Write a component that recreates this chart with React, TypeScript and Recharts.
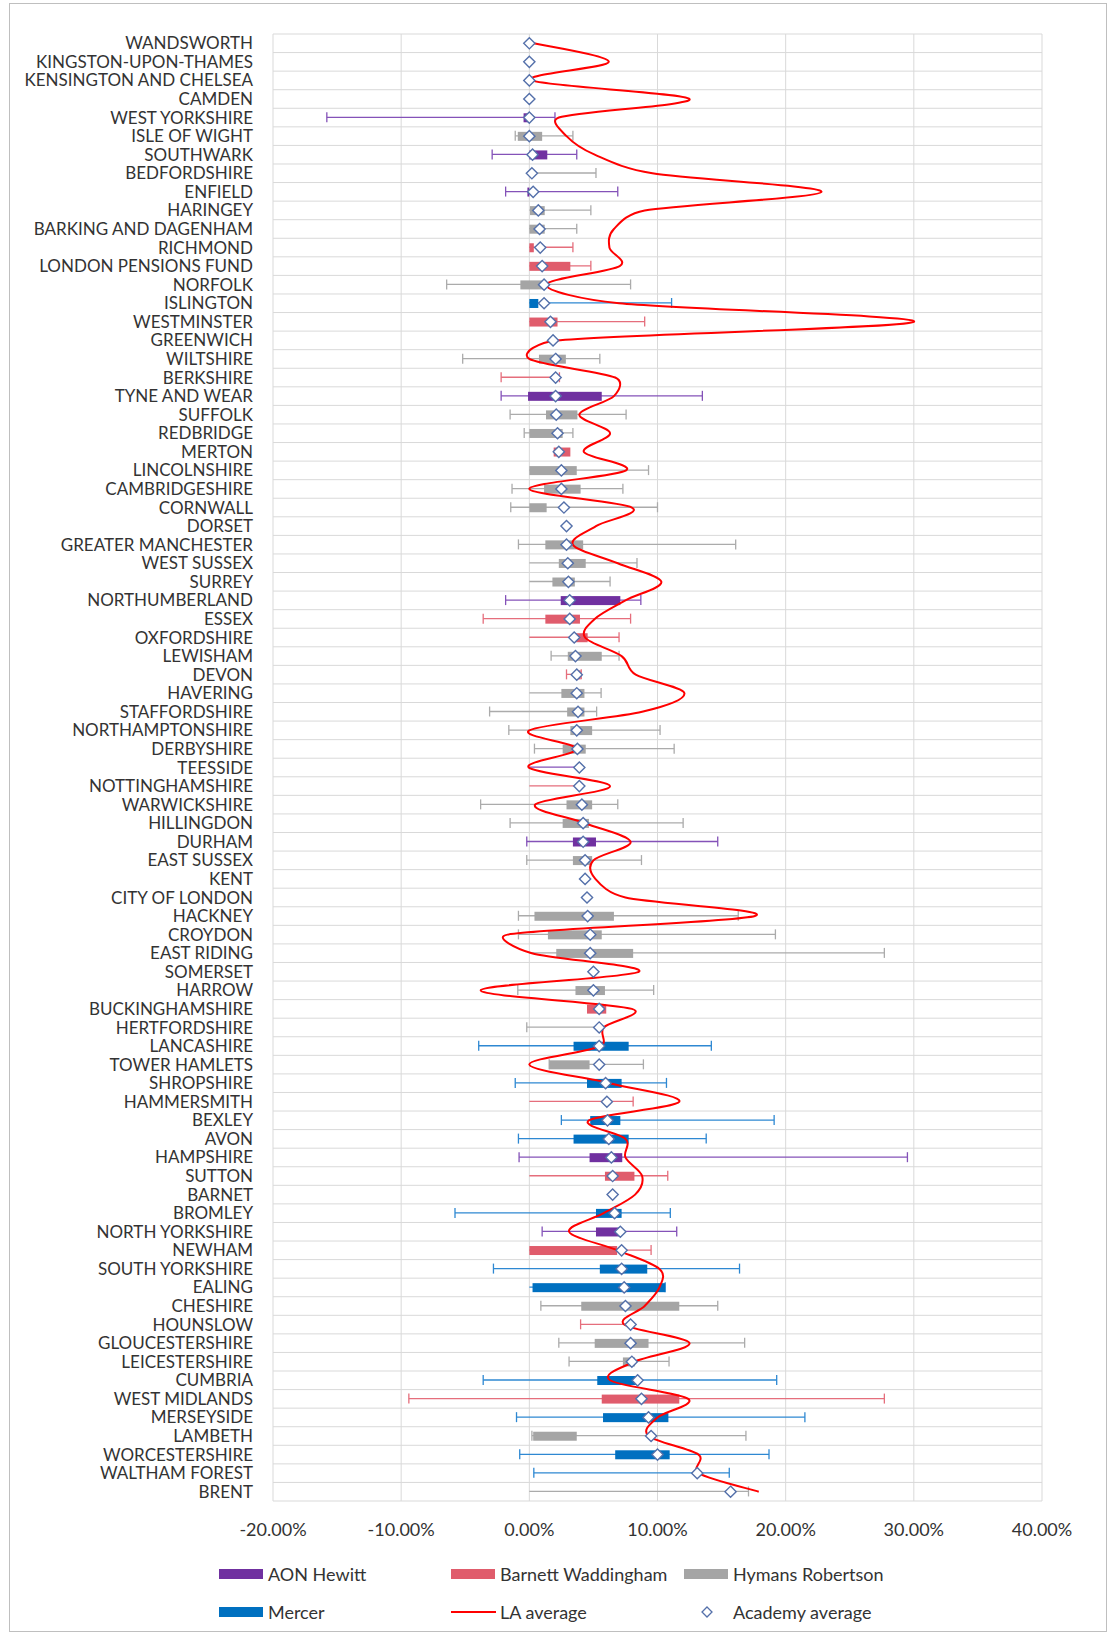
import React from 'react';
import { ComposedChart, Bar, Line, XAxis, YAxis, CartesianGrid } from 'recharts';

const CATEGORIES: string[] = [
  'WANDSWORTH', 'KINGSTON-UPON-THAMES', 'KENSINGTON AND CHELSEA', 'CAMDEN', 'WEST YORKSHIRE',
  'ISLE OF WIGHT', 'SOUTHWARK', 'BEDFORDSHIRE', 'ENFIELD', 'HARINGEY',
  'BARKING AND DAGENHAM', 'RICHMOND', 'LONDON PENSIONS FUND', 'NORFOLK', 'ISLINGTON',
  'WESTMINSTER', 'GREENWICH', 'WILTSHIRE', 'BERKSHIRE', 'TYNE AND WEAR',
  'SUFFOLK', 'REDBRIDGE', 'MERTON', 'LINCOLNSHIRE', 'CAMBRIDGESHIRE',
  'CORNWALL', 'DORSET', 'GREATER MANCHESTER', 'WEST SUSSEX', 'SURREY',
  'NORTHUMBERLAND', 'ESSEX', 'OXFORDSHIRE', 'LEWISHAM', 'DEVON',
  'HAVERING', 'STAFFORDSHIRE', 'NORTHAMPTONSHIRE', 'DERBYSHIRE', 'TEESSIDE',
  'NOTTINGHAMSHIRE', 'WARWICKSHIRE', 'HILLINGDON', 'DURHAM', 'EAST SUSSEX',
  'KENT', 'CITY OF LONDON', 'HACKNEY', 'CROYDON', 'EAST RIDING',
  'SOMERSET', 'HARROW', 'BUCKINGHAMSHIRE', 'HERTFORDSHIRE', 'LANCASHIRE',
  'TOWER HAMLETS', 'SHROPSHIRE', 'HAMMERSMITH', 'BEXLEY', 'AVON',
  'HAMPSHIRE', 'SUTTON', 'BARNET', 'BROMLEY', 'NORTH YORKSHIRE',
  'NEWHAM', 'SOUTH YORKSHIRE', 'EALING', 'CHESHIRE', 'HOUNSLOW',
  'GLOUCESTERSHIRE', 'LEICESTERSHIRE', 'CUMBRIA', 'WEST MIDLANDS', 'MERSEYSIDE',
  'LAMBETH', 'WORCESTERSHIRE', 'WALTHAM FOREST', 'BRENT',
];

// A = AON Hewitt, B = Barnett Waddingham, H = Hymans Robertson, M = Mercer, '' = none
const ACTUARY: string[] = [
  '', '', '', '', 'A',
  'H', 'A', 'H', 'A', 'H',
  'H', 'B', 'B', 'H', 'M',
  'B', '', 'H', 'B', 'A',
  'H', 'H', 'B', 'H', 'H',
  'H', '', 'H', 'H', 'H',
  'A', 'B', 'B', 'H', 'B',
  'H', 'H', 'H', 'H', 'A',
  'B', 'H', 'H', 'A', 'H',
  '', '', 'H', 'H', 'H',
  '', 'H', 'B', 'H', 'M',
  'H', 'M', 'B', 'M', 'M',
  'A', 'B', '', 'M', 'A',
  'B', 'M', 'M', 'H', 'B',
  'H', 'H', 'M', 'B', 'M',
  'H', 'M', 'M', 'H',
];

const BOX_LOW: (number | null)[] = [
  null, null, null, null, -0.45,
  -0.9, 0, null, -0.15, 0.05,
  0, 0, 0, -0.7, 0,
  0, null, 0.75, null, -0.1,
  1.3, 0, 1.9, 0, 1.15,
  0, null, 1.25, 2.3, 1.8,
  2.45, 1.25, 3.4, 3.0, 3.6,
  2.5, 2.95, 3.2, 2.6, null,
  null, 2.9, 2.6, 3.4, 3.4,
  null, null, 0.4, 1.45, 2.1,
  null, 3.6, 4.5, null, 3.45,
  1.55, 4.5, null, 4.75, 3.45,
  4.7, 5.9, null, 5.2, 5.2,
  0, 5.5, 0.25, 4.05, null,
  5.1, 7.3, 5.3, 5.65, 5.75,
  0.3, 6.7, null, null,
];

const BOX_HIGH: (number | null)[] = [
  null, null, null, null, 0,
  1.0, 1.4, null, 0, 1.2,
  1.2, 0.35, 3.2, 1.15, 0.7,
  2.2, null, 2.85, null, 5.65,
  3.75, 2.6, 3.2, 3.7, 4.0,
  1.35, null, 4.2, 4.4, 3.55,
  7.1, 3.95, 4.55, 5.65, 4.0,
  4.3, 4.3, 4.9, 4.4, null,
  null, 4.9, 4.65, 5.2, 4.9,
  null, null, 6.6, 5.65, 8.1,
  null, 5.9, 6.0, null, 7.75,
  4.7, 7.2, null, 7.1, 7.75,
  7.25, 8.2, null, 7.2, 7.1,
  6.85, 9.2, 10.6, 11.7, null,
  9.3, 8.25, 8.45, 11.7, 10.85,
  3.7, 10.95, null, null,
];

const WHISKER_LOW: (number | null)[] = [
  null, null, null, null, -15.8,
  -1.1, -2.9, 0, -1.85, 0,
  0, 0, 0, -6.45, 0,
  0, null, -5.2, -2.2, -2.2,
  -1.5, -0.4, null, 0, -1.35,
  -1.45, null, -0.85, 0, 0,
  -1.85, -3.6, 0, 1.7, 2.9,
  0, -3.1, -1.6, 0.4, 0,
  0, -3.8, -1.5, -0.2, -0.2,
  null, null, -0.85, -0.85, 0,
  null, -0.9, null, -0.2, -3.95,
  1.55, -1.1, 0, 2.5, -0.85,
  -0.8, 0, null, -5.8, 1.0,
  0, -2.8, 0, 0.9, 4.0,
  2.3, 3.1, -3.6, -9.4, -1.0,
  0.2, -0.75, 0.35, 0,
];

const WHISKER_HIGH: (number | null)[] = [
  null, null, null, null, 2.0,
  3.4, 3.7, 5.2, 6.9, 4.8,
  3.7, 3.4, 4.8, 7.9, 11.1,
  9.0, null, 5.5, 2.35, 13.5,
  7.55, 3.4, null, 9.3, 7.3,
  10.0, null, 16.1, 8.4, 6.3,
  8.7, 7.9, 7.0, 7.0, 4.05,
  5.6, 5.25, 10.2, 11.3, 3.9,
  3.9, 6.9, 12.0, 14.7, 8.75,
  null, null, 16.3, 19.2, 27.7,
  null, 9.7, null, 5.45, 14.2,
  8.9, 10.7, 8.1, 19.1, 13.8,
  29.5, 10.8, null, 11.0, 11.5,
  9.5, 16.4, 10.6, 14.7, 7.9,
  16.8, 10.9, 19.3, 27.7, 21.5,
  16.9, 18.7, 15.6, 17.1,
];

const ACADEMY_AVG: number[] = [
  0, 0, 0, 0, 0,
  0, 0.25, 0.2, 0.3, 0.7,
  0.8, 0.85, 1.0, 1.15, 1.15,
  1.65, 1.85, 2.05, 2.05, 2.05,
  2.1, 2.2, 2.3, 2.5, 2.5,
  2.7, 2.9, 2.9, 3.0, 3.05,
  3.15, 3.15, 3.5, 3.6, 3.7,
  3.7, 3.8, 3.7, 3.75, 3.9,
  3.9, 4.1, 4.2, 4.2, 4.35,
  4.35, 4.5, 4.55, 4.75, 4.75,
  5.0, 5.0, 5.45, 5.45, 5.45,
  5.45, 5.95, 6.05, 6.1, 6.2,
  6.4, 6.5, 6.5, 6.65, 7.1,
  7.2, 7.2, 7.4, 7.5, 7.9,
  7.9, 8.0, 8.45, 8.75, 9.3,
  9.5, 10.0, 13.1, 15.7,
];

const LA_AVG: number[] = [
  0.35, 6.2, 0.2, 12.5, 2.3,
  2.9, 5.1, 9.6, 22.8, 9.0,
  6.6, 6.25, 7.05, 1.3, 7.0,
  30.0, 2.1, 0.0, 6.7, 6.6,
  3.9, 6.3, 4.25, 7.55, 0.0,
  8.0, 5.2, 3.4, 6.9, 10.3,
  7.5, 5.1, 4.35, 7.2, 8.3,
  12.1, 8.8, 0.0, 3.7, -0.05,
  6.3, 0.45, 4.35, 7.9, 5.0,
  5.15, 7.5, 17.6, -1.7, 0.2,
  8.55, -3.8, 8.0, 5.8, 5.55,
  0.0, 6.25, 11.7, 4.65, 7.5,
  7.5, 8.8, 8.25, 5.8, 3.1,
  6.9, 10.15, 10.15, 9.0, 7.4,
  12.5, 8.2, 6.3, 12.4, 10.0,
  9.3, 13.2, 13.2, 17.9,
];

const X_TICKS: number[] = [-20, -10, 0, 10, 20, 30, 40];

const BOX_COLORS: Record<string, string> = {
  A: '#7030A0',
  B: '#E05C6C',
  H: '#A5A5A5',
  M: '#0070C0',
};
const WHISKER_COLORS: Record<string, string> = {
  A: '#8452B8',
  B: '#E56E7C',
  H: '#ABABAB',
  M: '#2E88D2',
};

const FONT = "Lato, 'Liberation Sans', sans-serif";

const data = CATEGORIES.map((name, i) => ({
  name,
  act: ACTUARY[i],
  box: BOX_LOW[i] === null ? null : [BOX_LOW[i] as number, BOX_HIGH[i] as number],
  whisk: WHISKER_LOW[i] === null ? null : [WHISKER_LOW[i] as number, WHISKER_HIGH[i] as number],
  acad: ACADEMY_AVG[i],
  la: LA_AVG[i],
}));

// Excel-like smoothed line: Bezier through every point, control arms 1/6 of the
// neighbour chord, limited to half of the segment when neighbours are far apart.
const dist = (a: number[], b: number[]) => Math.hypot(a[0] - b[0], a[1] - b[1]);
const excelCurve = (context: any) => {
  let pts: number[][] = [];
  return {
    areaStart() {},
    areaEnd() {},
    lineStart() {
      pts = [];
    },
    point(x: number, y: number) {
      pts.push([+x, +y]);
    },
    lineEnd() {
      const n = pts.length;
      if (!n) return;
      context.moveTo(pts[0][0], pts[0][1]);
      for (let i = 0; i < n - 1; i++) {
        const p0 = pts[Math.max(i - 1, 0)];
        const p1 = pts[i];
        const p2 = pts[i + 1];
        const p3 = pts[Math.min(i + 2, n - 1)];
        const d12 = dist(p1, p2);
        const d02 = dist(p0, p2);
        const d13 = dist(p1, p3);
        const f1 = d02 > 0 ? Math.min(1 / 6, (0.5 * d12) / d02) : 0;
        const f2 = d13 > 0 ? Math.min(1 / 6, (0.5 * d12) / d13) : 0;
        context.bezierCurveTo(
          p1[0] + (p2[0] - p0[0]) * f1,
          p1[1] + (p2[1] - p0[1]) * f1,
          p2[0] - (p3[0] - p1[0]) * f2,
          p2[1] - (p3[1] - p1[1]) * f2,
          p2[0],
          p2[1]
        );
      }
    },
  };
};

const BoxShape = (p: any) => {
  const { x, y, width, height, payload } = p;
  if (!payload || !payload.box || ![x, y, width, height].every((v) => Number.isFinite(v))) return <g />;
  const x1 = Math.min(x, x + width);
  const w = Math.abs(width);
  return <rect x={x1} y={y} width={Math.max(w, 0.5)} height={height} fill={BOX_COLORS[payload.act]} />;
};

const WhiskerShape = (p: any) => {
  const { x, y, width, height, payload } = p;
  if (!payload || !payload.whisk || ![x, y, width, height].every((v) => Number.isFinite(v))) return <g />;
  const c = WHISKER_COLORS[payload.act];
  const cy = y + height / 2;
  const x1 = Math.min(x, x + width);
  const x2 = Math.max(x, x + width);
  return (
    <g>
      <line x1={x1} x2={x2} y1={cy} y2={cy} stroke={c} strokeWidth={1.3} />
      {payload.whisk[0] !== 0 && <line x1={x1} x2={x1} y1={cy - 5} y2={cy + 5} stroke={c} strokeWidth={1.3} />}
      {payload.whisk[1] !== 0 && <line x1={x2} x2={x2} y1={cy - 5} y2={cy + 5} stroke={c} strokeWidth={1.3} />}
    </g>
  );
};

const Diamond = (p: any) => {
  const { cx, cy, index } = p;
  if (!Number.isFinite(cx) || !Number.isFinite(cy)) return <g key={`d-${index}`} />;
  const r = 5.6;
  return (
    <path
      key={`d-${index}`}
      d={`M${cx},${cy - r}L${cx + r},${cy}L${cx},${cy + r}L${cx - r},${cy}Z`}
      fill="#FFFFFF"
      stroke="#5470AA"
      strokeWidth={1.4}
    />
  );
};

const LEGEND_ITEMS = [
  { label: 'AON Hewitt', kind: 'box', color: '#7030A0', left: 209, top: 1560 },
  { label: 'Barnett Waddingham', kind: 'box', color: '#E05C6C', left: 441, top: 1560 },
  { label: 'Hymans Robertson', kind: 'box', color: '#A5A5A5', left: 674, top: 1560 },
  { label: 'Mercer', kind: 'box', color: '#0070C0', left: 209, top: 1598 },
  { label: 'LA average', kind: 'line', color: '#FF0000', left: 441, top: 1598 },
  { label: 'Academy average', kind: 'diamond', color: '#5470AA', left: 674, top: 1598 },
];

const LegendBlock = () => (
  <>
    {LEGEND_ITEMS.map((it) => (
      <div
        key={it.label}
        style={{
          position: 'absolute',
          left: it.left,
          top: it.top,
          height: 20,
          display: 'flex',
          alignItems: 'center',
          fontFamily: FONT,
          fontSize: 18,
          color: '#333333',
          whiteSpace: 'nowrap',
        }}
      >
        <div style={{ width: 44, height: 20, position: 'relative', marginRight: 5 }}>
          {it.kind === 'box' && (
            <div style={{ position: 'absolute', left: 0, top: 5, width: 44, height: 10, background: it.color }} />
          )}
          {it.kind === 'line' && (
            <div style={{ position: 'absolute', left: 0, top: 9, width: 45, height: 2, background: it.color }} />
          )}
          {it.kind === 'diamond' && (
            <svg width={44} height={20} style={{ position: 'absolute', left: 0, top: 0 }}>
              <path d="M23,5 L28,10 L23,15 L18,10 Z" fill="#fff" stroke={it.color} strokeWidth={1.3} />
            </svg>
          )}
        </div>
        <span>{it.label}</span>
      </div>
    ))}
  </>
);

const N = CATEGORIES.length;

export default function App() {
  return (
    <div
      style={{
        position: 'absolute',
        left: 9,
        top: 3,
        width: 1096,
        height: 1627,
        border: '1px solid #BFBFBF',
        background: '#FFFFFF',
      }}
    >
      <ComposedChart
        width={1096}
        height={1540}
        layout="vertical"
        data={data}
        margin={{ top: 30, right: 64, bottom: 0, left: 0 }}
        barGap={0}
      >
        <CartesianGrid
          stroke="#D9D9D9"
          strokeWidth={1}
          horizontalCoordinatesGenerator={(args: any) => {
            const { offset } = args;
            return Array.from({ length: N + 1 }, (_, i) => offset.top + (i * offset.height) / N);
          }}
        />
        <XAxis
          type="number"
          domain={[-20, 40]}
          ticks={X_TICKS}
          interval={0}
          tickFormatter={(v: number) => `${v.toFixed(2)}%`}
          axisLine={false}
          tickLine={false}
          tickSize={0}
          tickMargin={22}
          height={43}
          tick={{ fontSize: 18, fill: '#333333', fontFamily: FONT }}
        />
        <YAxis
          type="category"
          dataKey="name"
          width={263}
          interval={0}
          axisLine={false}
          tickLine={false}
          tickSize={0}
          tickMargin={20}
          tick={{ fontSize: 17, fill: '#333333', fontFamily: FONT }}
        />
        <YAxis yAxisId="w" type="category" dataKey="name" hide />
        <Bar
          yAxisId="w"
          dataKey="whisk"
          barSize={10}
          shape={WhiskerShape}
          isAnimationActive={false}
          legendType="none"
        />
        <Bar dataKey="box" barSize={9} shape={BoxShape} isAnimationActive={false} legendType="none" />
        <Line
          dataKey="la"
          type={excelCurve as any}
          stroke="#FF0000"
          strokeWidth={2}
          dot={false}
          activeDot={false}
          isAnimationActive={false}
        />
        <Line
          dataKey="acad"
          stroke="none"
          strokeWidth={0}
          dot={Diamond}
          activeDot={false}
          isAnimationActive={false}
        />
      </ComposedChart>
      <LegendBlock />
    </div>
  );
}
